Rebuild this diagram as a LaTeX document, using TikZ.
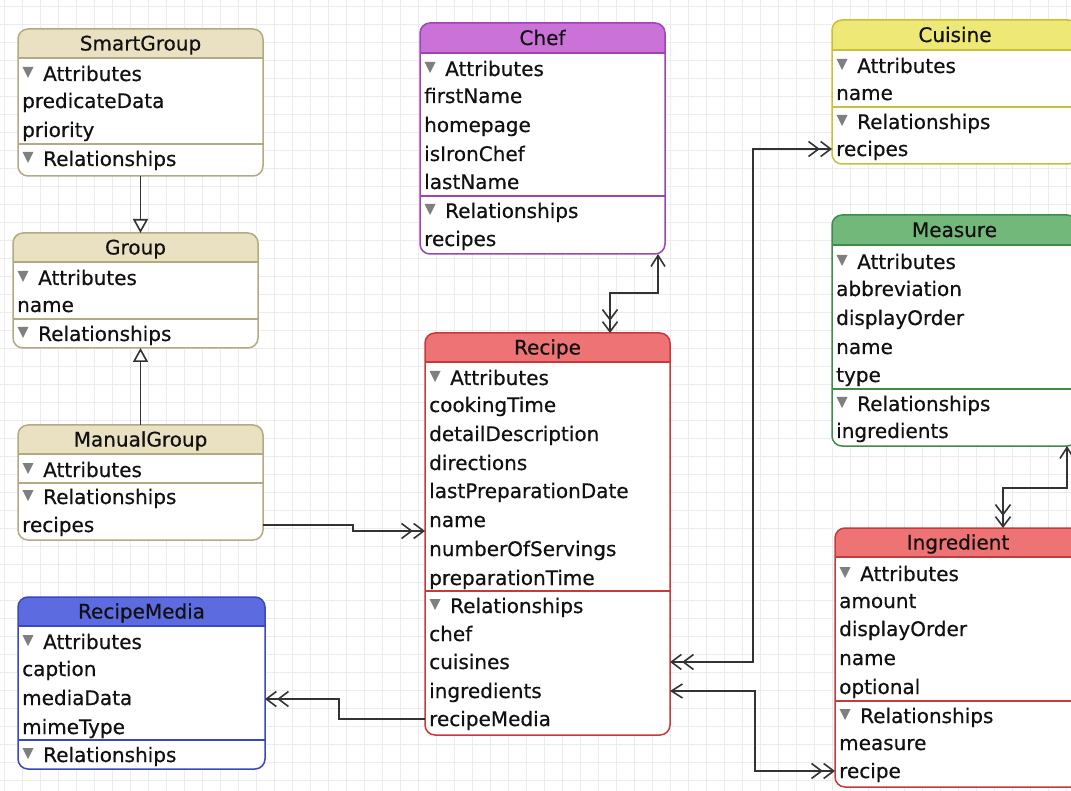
\documentclass[tikz,border=0pt]{standalone}
\usepackage{fontspec}
\setmainfont[FakeBold=0.5]{DejaVu Sans}
\usetikzlibrary{arrows.meta}
\definecolor{tanF}{HTML}{E9E1C1}
\definecolor{tanD}{HTML}{B3AA83}
\definecolor{chefF}{HTML}{CB72D9}
\definecolor{chefD}{HTML}{9D43B5}
\definecolor{recF}{HTML}{EE7374}
\definecolor{recD}{HTML}{C53B3B}
\definecolor{cuiF}{HTML}{EEE977}
\definecolor{cuiD}{HTML}{C6C03C}
\definecolor{meaF}{HTML}{73B87B}
\definecolor{meaD}{HTML}{3F8C49}
\definecolor{blueF}{HTML}{5D6BE0}
\definecolor{blueD}{HTML}{3A47C2}
\definecolor{secC}{HTML}{7F7F7F}
\definecolor{connC}{HTML}{333333}
\definecolor{gridC}{HTML}{ECECEC}
\definecolor{txtC}{HTML}{111111}
\tikzset{
  ent/.style={rectangle, inner sep=0pt, outer sep=0pt, fill=white},
  rowtxt/.style={font=\fontsize{20}{24}\selectfont, inner sep=0pt, text height=18pt, text depth=4pt, anchor=west, text=txtC},
  ttl/.style={font=\fontsize{20}{24}\selectfont, inner sep=0pt, anchor=base, text=txtC},
  conn/.style={draw=connC, line width=1.6pt},
  bb/.style={Straight Barb[length=10pt,width=15pt]},
  many/.style={conn, -{Straight Barb[length=10pt,width=15pt]Straight Barb[length=10pt,width=15pt]}},
  onemany/.style={conn, {Straight Barb[length=11pt,width=14pt]}-{Straight Barb[length=10pt,width=15pt]Straight Barb[length=10pt,width=15pt]}},
  manymany/.style={conn, {Straight Barb[length=10pt,width=15pt]Straight Barb[length=10pt,width=15pt]}-{Straight Barb[length=10pt,width=15pt]Straight Barb[length=10pt,width=15pt]}},
  inherit/.style={conn, -{Triangle[open, length=14pt, width=15pt, fill=white]}},
}
% id L T R B headerbottom fill draw title
\newcommand\entity[9]{%
  \node[ent, minimum width={(#4)-(#2)}, minimum height={(#5)-(#3)}, anchor=north west] (#1) at (#2,#3) {};
  \begin{scope}
    \clip[rounded corners=10pt] (#1.north west) rectangle (#1.south east);
    \fill[#7] (#2,#3) rectangle (#4,#6);
  \end{scope}
  \draw[#8, line width=1.3pt] (#2,#6) -- (#4,#6);
  \draw[#8, line width=1.5pt, rounded corners=10pt] (#1.north west) rectangle (#1.south east);
  \node[ttl] (#1-title) at ({(#2+#4)/2},{(#3+#6)/2+7}) {#9};
}
\newcommand\erow[4]{\node[rowtxt] (#1) at (#2,#3+1) {#4};}
\newcommand\esect[4]{%
  \fill[secC] (#2+4.5,#3-6) -- (#2+15.5,#3-6) -- (#2+10,#3+5) -- cycle;
  \node[rowtxt] (#1) at (#2+25,#3+1) {#4};}
\newcommand\esep[4]{\draw[#4, line width=1.2pt] (#1,#3) -- (#2,#3);}
\begin{document}
\begin{tikzpicture}[x=1pt, y=-1pt]
\useasboundingbox (0,0) rectangle (1071,791);
\clip (0,0) rectangle (1071,791);
\fill[white] (0,0) rectangle (1071,791);
\foreach \i in {4,22,...,1080} \draw[gridC, line width=0.7pt] (\i,0) -- (\i,791);
\foreach \j in {6,24,...,800} \draw[gridC, line width=0.7pt] (0,\j) -- (1071,\j);

% SmartGroup
\entity{sg}{18}{29}{263}{176}{58}{tanF}{tanD}{SmartGroup}
\esect{sg-attr}{18}{73}{Attributes}
\erow{sg-predicateData}{22}{100}{predicateData}
\erow{sg-priority}{22}{129}{priority}
\esep{18}{263}{144}{tanD}
\esect{sg-rel}{18}{158}{Relationships}

% Group
\entity{g}{13}{233}{258}{348}{262}{tanF}{tanD}{Group}
\esect{g-attr}{13}{277}{Attributes}
\erow{g-name}{17}{304}{name}
\esep{13}{258}{319}{tanD}
\esect{g-rel}{13}{333}{Relationships}

% ManualGroup
\entity{mg}{18}{425}{263}{540}{454}{tanF}{tanD}{ManualGroup}
\esect{mg-attr}{18}{469}{Attributes}
\esep{18}{263}{483}{tanD}
\esect{mg-rel}{18}{496}{Relationships}
\erow{mg-recipes}{22}{524}{recipes}

% RecipeMedia
\entity{rm}{18}{597}{265}{769}{626}{blueF}{blueD}{RecipeMedia}
\esect{rm-attr}{18}{641}{Attributes}
\erow{rm-caption}{22}{668}{caption}
\erow{rm-mediaData}{22}{697}{mediaData}
\erow{rm-mimeType}{22}{726}{mimeType}
\esep{18}{265}{740}{blueD}
\esect{rm-rel}{18}{754}{Relationships}

% Chef
\entity{chef}{420}{23}{665}{254}{53}{chefF}{chefD}{Chef}
\esect{chef-attr}{420}{68}{Attributes}
\erow{chef-firstName}{424}{95}{firstName}
\erow{chef-homepage}{424}{124}{homepage}
\erow{chef-isIronChef}{424}{153}{isIronChef}
\erow{chef-lastName}{424}{181}{lastName}
\esep{420}{665}{196}{chefD}
\esect{chef-rel}{420}{210}{Relationships}
\erow{chef-recipes}{424}{238}{recipes}

% Recipe
\entity{recipe}{425}{333}{670}{735}{362}{recF}{recD}{Recipe}
\esect{recipe-attr}{425}{377}{Attributes}
\erow{recipe-cookingTime}{429}{404}{cookingTime}
\erow{recipe-detailDescription}{429}{433}{detailDescription}
\erow{recipe-directions}{429}{462}{directions}
\erow{recipe-lastPreparationDate}{429}{490}{lastPreparationDate}
\erow{recipe-name}{429}{519}{name}
\erow{recipe-numberOfServings}{429}{548}{numberOfServings}
\erow{recipe-preparationTime}{429}{577}{preparationTime}
\esep{425}{670}{591}{recD}
\esect{recipe-rel}{425}{605}{Relationships}
\erow{recipe-chef}{429}{633}{chef}
\erow{recipe-cuisines}{429}{661}{cuisines}
\erow{recipe-ingredients}{429}{690}{ingredients}
\erow{recipe-recipeMedia}{429}{718}{recipeMedia}

% Cuisine
\entity{cuisine}{832}{20}{1078}{164}{50}{cuiF}{cuiD}{Cuisine}
\esect{cuisine-attr}{832}{65}{Attributes}
\erow{cuisine-name}{836}{92}{name}
\esep{832}{1078}{107}{cuiD}
\esect{cuisine-rel}{832}{121}{Relationships}
\erow{cuisine-recipes}{836}{148}{recipes}

% Measure
\entity{measure}{832}{215}{1077}{446}{245}{meaF}{meaD}{Measure}
\esect{measure-attr}{832}{261}{Attributes}
\erow{measure-abbreviation}{836}{288}{abbreviation}
\erow{measure-displayOrder}{836}{317}{displayOrder}
\erow{measure-name}{836}{346}{name}
\erow{measure-type}{836}{374}{type}
\esep{832}{1077}{389}{meaD}
\esect{measure-rel}{832}{403}{Relationships}
\erow{measure-ingredients}{836}{430}{ingredients}

% Ingredient
\entity{ingredient}{835}{528}{1081}{787}{557}{recF}{recD}{Ingredient}
\esect{ingredient-attr}{835}{573}{Attributes}
\erow{ingredient-amount}{839}{600}{amount}
\erow{ingredient-displayOrder}{839}{628}{displayOrder}
\erow{ingredient-name}{839}{657}{name}
\erow{ingredient-optional}{839}{686}{optional}
\esep{835}{1081}{701}{recD}
\esect{ingredient-rel}{835}{715}{Relationships}
\erow{ingredient-measure}{839}{742}{measure}
\erow{ingredient-recipe}{839}{770}{recipe}

% connectors
\draw[inherit] (sg.south) -- (sg.south |- g.north);
\draw[inherit] (mg.north) -- (mg.north |- g.south);

\coordinate (bMG) at (353,531);
\draw[many] (mg.east |- mg-recipes) -| (bMG) -- (bMG -| recipe.west);

\coordinate (bChef) at (610,293);
\draw[onemany] ([xshift=-7pt]chef.south east) |- (bChef) -- (bChef |- recipe.north);

\coordinate (xCui) at (753,0);
\draw[manymany] (recipe.east |- recipe-cuisines) -| (xCui |- cuisine-recipes) -- (cuisine.west |- cuisine-recipes);

\coordinate (xIng) at (755,0);
\draw[onemany] (recipe.east |- recipe-ingredients) -| (xIng |- ingredient-recipe) -- (ingredient.west |- ingredient-recipe);

\coordinate (bMea) at (1003,488);
\draw[onemany] ([xshift=-10pt]measure.south east) |- (bMea) -- (bMea |- ingredient.north);

\coordinate (bRM) at (339,699);
\draw[many] (recipe.west |- recipe-recipeMedia) -| (bRM) -- (bRM -| rm.east);
\end{tikzpicture}
\end{document}
